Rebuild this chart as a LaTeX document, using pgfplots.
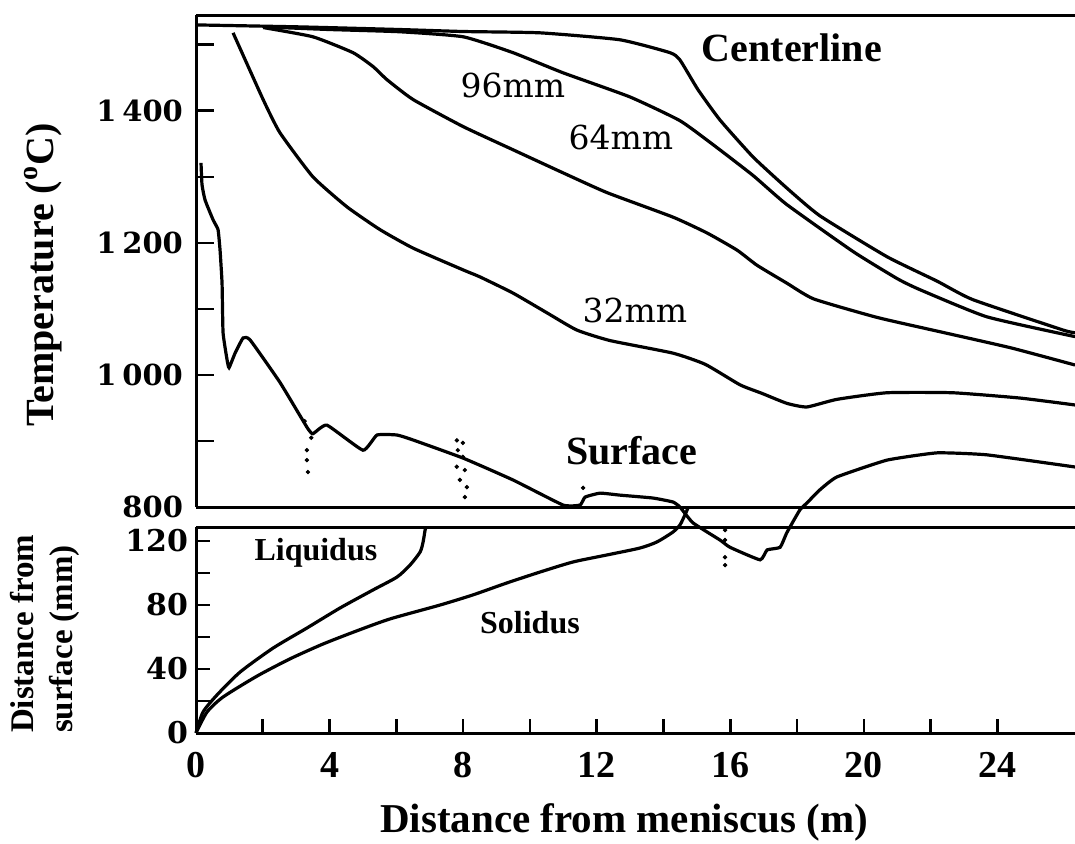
\documentclass[border=0pt]{standalone}
\usepackage{fontspec}
\setmainfont{Liberation Serif}
\newfontfamily\dvs{DejaVu Serif}
\usepackage{pgfplots}
\pgfplotsset{compat=1.18}

\begin{document}
\begin{tikzpicture}[x=1pt,y=1pt]
\useasboundingbox (0,0) rectangle (537.5,421.5);

% ---------------- Top panel: temperature ----------------
\begin{axis}[
  at={(98pt,168pt)}, anchor=south west,
  scale only axis, width=439.5pt, height=246pt,
  xmin=0, xmax=26.32, ymin=800, ymax=1545,
  axis x line*=box, axis y line*=left,
  axis line style={line width=1.5pt},
  xtick=\empty,
  ytick={800,900,...,1500},
  yticklabels={800,,1\hspace{0.2em}000,,1\hspace{0.2em}200,,1\hspace{0.2em}400,},
  ytick pos=left,
  tick align=inside, major tick length=9pt,
  tick style={line width=1.3pt, black},
  yticklabel style={font={\dvs\bfseries\fontsize{14.5}{15}\selectfont}, xshift=-3pt},
  clip=false,
]
% Centerline
\addplot[black, line width=1.6pt, smooth, tension=0.3] coordinates {
(0,1530) (3.11,1527) (6.11,1523) (8.00,1520) (10.30,1518) (12.69,1507.5)
(14.19,1488) (14.49,1477) (15.03,1432) (15.69,1386) (16.68,1330) (17.69,1283)
(18.68,1241) (20.69,1179) (22.19,1142) (23.26,1114) (25.96,1068) (26.32,1064)};
% 96 mm
\addplot[black, line width=1.6pt, smooth, tension=0.3] coordinates {
(2.01,1527) (4.01,1523) (6.11,1519.6) (8.00,1512) (9.49,1488) (10.99,1457.5)
(12.99,1421) (14.49,1385) (15.50,1348) (16.68,1302) (17.69,1258) (19.67,1187)
(20.99,1146) (21.68,1129) (23.68,1088) (26.32,1058)};
% 64 mm
\addplot[black, line width=1.6pt, smooth, tension=0.3] coordinates {
(2.01,1526) (3.50,1512) (4.70,1488) (5.30,1467) (5.72,1447) (6.50,1417)
(8.00,1376) (9.49,1341) (10.99,1306) (12.31,1276) (14.28,1239) (15.30,1215)
(16.20,1189) (16.80,1166) (17.69,1139) (18.50,1115) (20.40,1087) (22.40,1064)
(24.40,1041) (26.32,1015)};
% 32 mm
\addplot[black, line width=1.6pt, smooth, tension=0.3] coordinates {
(1.11,1518) (2.01,1417) (2.51,1367) (3.50,1300) (4.52,1254.5) (5.51,1220)
(6.50,1192) (8.00,1159) (8.50,1148.5) (9.49,1124) (10.51,1094) (11.40,1068)
(12.40,1052) (14.28,1033) (15.25,1016) (16.29,985) (16.95,972) (17.69,957)
(18.29,951.5) (19.19,963) (20.69,973) (22.66,973) (24.67,965) (26.32,954.5)};
% Surface
\addplot[black, line width=1.6pt, smooth, tension=0.25] coordinates {
(0.15,1321) (0.18,1288) (0.27,1265) (0.51,1235) (0.66,1220) (0.72,1189)
(0.78,1139) (0.81,1064) (0.93,1023) (0.99,1011) (1.17,1033) (1.41,1056)
(1.62,1053) (2.51,989) (3.32,921) (3.50,911) (3.92,924) (5.00,886)
(5.42,909) (6.02,909) (6.50,901.5) (8.00,874) (9.49,841) (10.99,803)
(11.50,803) (11.65,815) (12.10,821) (12.69,818) (13.68,813.6) (14.28,807.6)
(14.49,800) (14.88,776) (15.69,750) (15.99,739) (16.89,720) (17.10,735)
(17.49,739) (17.69,761) (18.08,795.5) (18.29,806) (18.68,826) (19.19,845.5)
(20.69,871) (22.19,882) (23.68,879) (26.32,860.6)};
% scattered measurement dots
\addplot[only marks, mark=*, mark size=0.9pt, black] coordinates {
(3.32,886) (3.32,871) (3.35,853) (3.25,930) (3.45,905)
(7.81,901) (7.99,897) (7.84,886) (7.99,876) (7.81,861) (8.05,856) (7.90,841) (8.11,830) (8.05,815)
(11.59,829)
(15.84,765) (15.84,750) (15.84,724) (15.84,712)};

\node[anchor=base, font={\bfseries\fontsize{20}{24}\selectfont}] at (axis cs:17.84,1474) {Centerline};
\node[anchor=base, font={\dvs\fontsize{16.5}{20}\selectfont}] at (axis cs:9.49,1419.6) {96mm};
\node[anchor=base, font={\dvs\fontsize{16.5}{20}\selectfont}] at (axis cs:12.72,1341) {64mm};
\node[anchor=base, font={\dvs\fontsize{16.5}{20}\selectfont}] at (axis cs:13.14,1079) {32mm};
\node[anchor=base, font={\bfseries\fontsize{20}{24}\selectfont}] at (axis cs:13.05,865) {Surface};
\end{axis}

% ---------------- Bottom panel: shell thickness ----------------
\begin{axis}[
  at={(98pt,55pt)}, anchor=south west,
  scale only axis, width=439.5pt, height=103pt,
  xmin=0, xmax=26.32, ymin=0, ymax=128.75,
  axis x line*=box, axis y line*=left,
  axis line style={line width=1.5pt},
  xtick={0,2,...,24}, xticklabels={0,,4,,8,,12,,16,,20,,24},
  ytick={0,20,...,120}, yticklabels={0,,40,,80,,120},
  xtick pos=left, ytick pos=left,
  tick align=inside, major tick length=7pt,
  tick style={line width=1.3pt, black},
  xticklabel style={font={\bfseries\fontsize{19}{22}\selectfont}, yshift=-6pt},
  yticklabel style={font={\dvs\bfseries\fontsize{15}{16}\selectfont}, xshift=-0.5pt},
  clip=false,
]
% Liquidus
\addplot[black, line width=1.6pt, smooth, tension=0.4] coordinates {
(0,0) (0.21,13.1) (0.63,23.8) (1.32,38.1) (2.31,53.1) (3.32,65.6) (4.31,78.1)
(5.30,89.4) (6.02,97.5) (6.41,105) (6.71,113.1) (6.80,119.4) (6.86,126.9) (6.89,128.75)};
% Solidus
\addplot[black, line width=1.6pt, smooth, tension=0.4] coordinates {
(0,0) (0.33,13.1) (0.81,22.5) (1.83,35.6) (2.81,46.3) (3.80,55.6) (4.81,63.8)
(5.81,71.3) (7.31,80) (8.29,86.3) (9.31,93.8) (10.30,100.6) (11.29,106.9)
(12.31,111.3) (13.29,115.6) (13.80,119.4) (14.28,125.6) (14.49,130) (14.64,136.3) (14.73,140.6)};

\node[anchor=base, font={\bfseries\fontsize{16}{19}\selectfont}] at (axis cs:3.59,108) {Liquidus};
\node[anchor=base, font={\bfseries\fontsize{16}{19}\selectfont}] at (axis cs:10.0,62.5) {Solidus};
\end{axis}

% ---------------- Axis titles ----------------
\node[anchor=base, font={\bfseries\fontsize{20.5}{24}\selectfont}] at (312,5.5) {Distance from meniscus (m)};
\node[anchor=base, rotate=90, font={\bfseries\fontsize{20}{24}\selectfont}] at (26.5,284) {Temperature (\textsuperscript{o}C)};
\node[anchor=base west, rotate=90, font={\bfseries\fontsize{16.5}{20}\selectfont}] at (17,51.5) {Distance from};
\node[anchor=base west, rotate=90, font={\bfseries\fontsize{16.5}{20}\selectfont}] at (36,51.5) {surface (mm)};
\end{tikzpicture}
\end{document}
